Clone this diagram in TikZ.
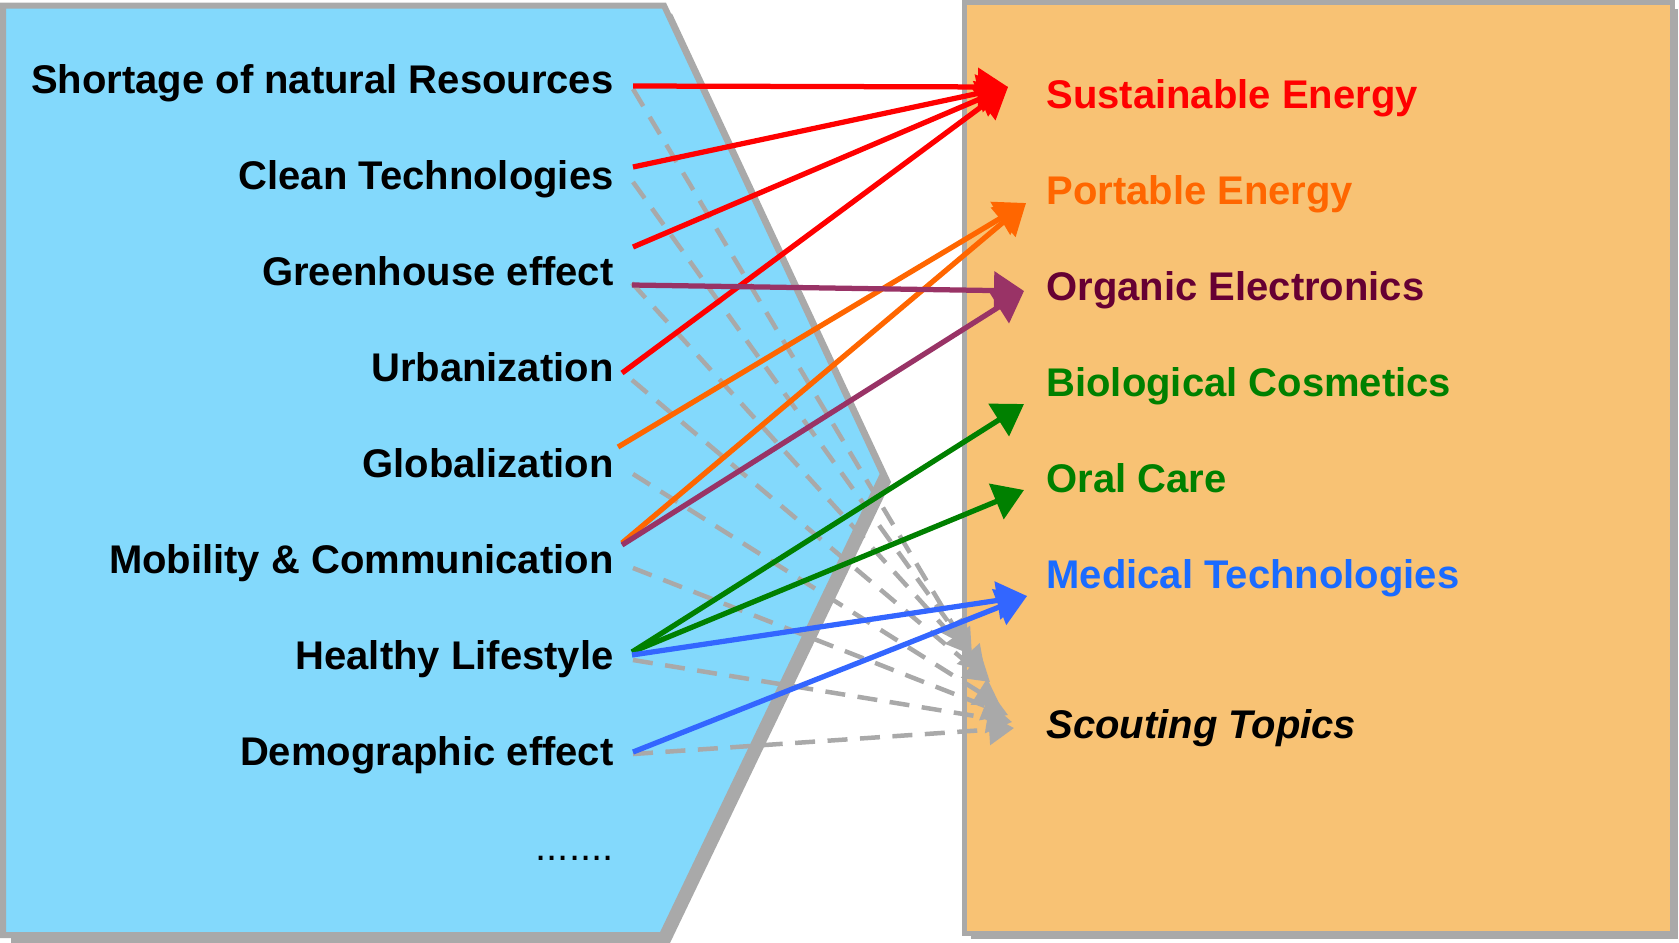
\documentclass[tikz,border=0pt]{standalone}
\usepackage{fontspec}
\setmainfont{Liberation Sans}
\usetikzlibrary{calc,arrows.meta}

\definecolor{trendblue}{HTML}{83D9FC}
\definecolor{topicorange}{HTML}{F8C274}
\definecolor{framegray}{HTML}{A9A9A9}
\definecolor{sustred}{HTML}{FF0000}
\definecolor{portorange}{HTML}{FF6600}
\definecolor{orgline}{HTML}{993366}
\definecolor{orgtext}{HTML}{660033}
\definecolor{biogreen}{HTML}{008000}
\definecolor{medblue}{HTML}{3366FF}
\definecolor{medtext}{HTML}{1A6BFF}

\begin{document}
\begin{tikzpicture}[%
    x=0.4pt,y=-0.4pt,
    trend/.style={
      anchor=base east,
      inner sep=0pt,
      font=\fontsize{16}{19}\selectfont\bfseries
    },
    topic/.style={
      anchor=base west,
      inner sep=0pt,
      font=\fontsize{16}{19}\selectfont\bfseries
    },
    link/.style={
      line width=2.1pt,
      -{Triangle[length=12pt,width=15pt]}
    },
    scoutlink/.style={
      framegray,
      line width=1.8pt,
      dash pattern=on 8pt off 5pt,
      -{Triangle[length=10pt,width=12pt]}
    }
  ]
    \useasboundingbox (0,0) rectangle (1679,942);

    % the two panels, with their shadows
    \fill[framegray,shift={(8,8)}] (3,5.5) -- (664,5.5) -- (883,474)
      -- (662,935) -- (3,935) -- cycle;
    \filldraw[fill=trendblue,draw=framegray,line width=2.4pt,line join=miter]
      (3,5.5) -- (664,5.5) -- (883,474) -- (662,935) -- (3,935) -- cycle;
    \fill[framegray,shift={(6,6)}] (964.5,2.5) rectangle (1672,933);
    \filldraw[fill=topicorange,draw=framegray,line width=2pt]
      (964.5,2.5) rectangle (1672,933);

    % trends
    \node[trend] (shortage) at (614,93) {Shortage of natural Resources};
    \node[trend] (clean) at (614,189) {Clean Technologies};
    \node[trend] (greenhouse) at (614,285) {Greenhouse effect};
    \node[trend] (urban) at (614,381) {Urbanization};
    \node[trend] (global) at (614,477) {Globalization};
    \node[trend] (mobility) at (614,573) {Mobility \& Communication};
    \node[trend] (healthy) at (614,669) {Healthy Lifestyle};
    \node[trend] (demo) at (614,765) {Demographic effect};
    \node[trend,font=\fontsize{16}{19}\selectfont] (dots) at (614,860) {.......};

    % topics
    \node[topic,text=sustred] (sust) at (1046,108) {Sustainable Energy};
    \node[topic,text=portorange] (portable) at (1046,204) {Portable Energy};
    \node[topic,text=orgtext] (organic) at (1046,300) {Organic Electronics};
    \node[topic,text=biogreen] (biocos) at (1046,396) {Biological Cosmetics};
    \node[topic,text=biogreen] (oral) at (1046,492) {Oral Care};
    \node[topic,text=medtext] (medical) at (1046,588) {Medical Technologies};
    \node[topic] (scout) at (1046,738) {\itshape Scouting Topics};

    % every trend also feeds the scouting
    \draw[scoutlink] ($(shortage.base east)+(19,-4)$) -- ($(scout.base west)+(-81,-93)$);
    \draw[scoutlink] ($(clean.base east)+(19,-7)$) -- ($(scout.base west)+(-74,-83)$);
    \draw[scoutlink] ($(greenhouse.base east)+(18,-2)$) -- ($(scout.base west)+(-61,-66)$);
    \draw[scoutlink] ($(urban.base east)+(18,-1)$) -- ($(scout.base west)+(-56,-56)$);
    \draw[scoutlink] ($(global.base east)+(19,-3)$) -- ($(scout.base west)+(-46,-33)$);
    \draw[scoutlink] ($(mobility.base east)+(19,-5)$) -- ($(scout.base west)+(-38,-23)$);
    \draw[scoutlink] ($(healthy.base east)+(19,-9)$) -- ($(scout.base west)+(-34,-16)$);
    \draw[scoutlink] ($(demo.base east)+(19,-11)$) -- ($(scout.base west)+(-32,-10)$);

    % trend -> topic
    \draw[link,sustred] ($(shortage.base east)+(19,-7)$) -- ($(sust.base west)+(-38,-21)$);
    \draw[link,sustred] ($(clean.base east)+(19,-22)$) -- ($(sust.base west)+(-38,-21)$);
    \draw[link,sustred] ($(greenhouse.base east)+(19,-38)$) -- ($(sust.base west)+(-38,-21)$);
    \draw[link,sustred] ($(urban.base east)+(8,-8)$) -- ($(sust.base west)+(-38,-21)$);
    \draw[link,portorange] ($(global.base east)+(4,-30)$) -- ($(portable.base west)+(-20,-1)$);
    \draw[link,portorange] ($(mobility.base east)+(8,-30)$) -- ($(portable.base west)+(-20,-1)$);
    \draw[link,orgline] ($(greenhouse.base east)+(18,0)$) -- ($(organic.base west)+(-22,-9)$);
    \draw[link,orgline] ($(mobility.base east)+(8,-28)$) -- ($(organic.base west)+(-22,-9)$);
    \draw[link,biogreen] ($(healthy.base east)+(18,-17)$) -- ($(biocos.base west)+(-22,8)$);
    \draw[link,biogreen] ($(healthy.base east)+(18,-17)$) -- ($(oral.base west)+(-22,-2)$);
    \draw[link,medblue] ($(healthy.base east)+(18,-14)$) -- ($(medical.base west)+(-19,8)$);
    \draw[link,medblue] ($(demo.base east)+(19,-13)$) -- ($(medical.base west)+(-19,8)$);

  \end{tikzpicture}
\end{document}
